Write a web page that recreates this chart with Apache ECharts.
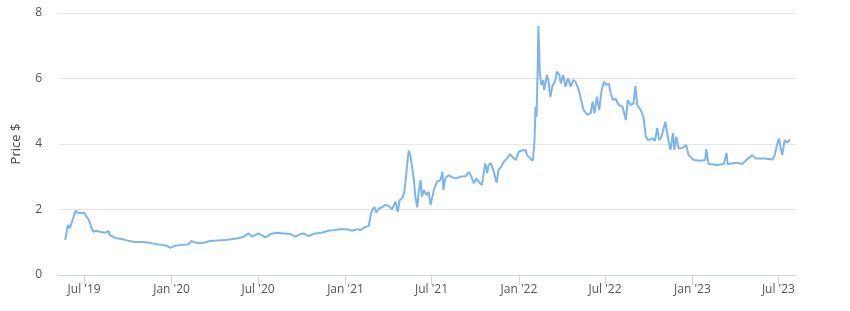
<!DOCTYPE html>
<html>
<head>
<meta charset="utf-8">
<script src="https://cdn.jsdelivr.net/npm/echarts@6/dist/echarts.min.js"></script>
<style>html,body{margin:0;padding:0;background:#fff}#c{width:850px;height:311px}</style>
</head>
<body>
<div id="c"></div>
<script>
var dates = [
'2019-05-22','2019-05-25','2019-05-28','2019-06-01','2019-06-04','2019-06-08','2019-06-13','2019-06-18','2019-06-25','2019-07-01',
'2019-07-06','2019-07-11','2019-07-16','2019-07-20','2019-07-27','2019-08-03','2019-08-14','2019-08-21','2019-08-24','2019-09-07',
'2019-09-18','2019-10-01','2019-10-15','2019-10-30','2019-11-13','2019-11-27','2019-12-11','2019-12-22','2019-12-29','2020-01-08',
'2020-01-22','2020-02-05','2020-02-12','2020-02-19','2020-03-01','2020-03-11','2020-03-22','2020-04-05','2020-04-23','2020-05-06',
'2020-05-20','2020-06-01','2020-06-11','2020-06-18','2020-06-25','2020-07-02','2020-07-06','2020-07-17','2020-07-27','2020-08-10',
'2020-08-24','2020-09-07','2020-09-17','2020-09-28','2020-10-05','2020-10-15','2020-10-29','2020-11-12','2020-11-26','2020-12-07',
'2020-12-21','2021-01-04','2021-01-15','2021-01-25','2021-02-01','2021-02-12','2021-02-19','2021-02-23','2021-02-26','2021-03-03',
'2021-03-07','2021-03-12','2021-03-19','2021-03-26','2021-04-02','2021-04-09','2021-04-16','2021-04-21','2021-04-25','2021-04-30',
'2021-05-05','2021-05-08','2021-05-11','2021-05-14','2021-05-18','2021-05-21','2021-05-25','2021-05-28','2021-06-01','2021-06-04',
'2021-06-08','2021-06-11','2021-06-15','2021-06-20','2021-06-25','2021-06-29','2021-07-02','2021-07-07','2021-07-13','2021-07-20',
'2021-07-24','2021-07-26','2021-07-30','2021-08-06','2021-08-14','2021-08-21','2021-08-31','2021-09-11','2021-09-18','2021-09-23',
'2021-09-28','2021-10-03','2021-10-08','2021-10-15','2021-10-22','2021-10-26','2021-10-29','2021-11-03','2021-11-09','2021-11-15',
'2021-11-19','2021-11-25','2021-11-30','2021-12-07','2021-12-13','2021-12-18','2021-12-25','2022-01-01','2022-01-08','2022-01-15',
'2022-01-18','2022-01-25','2022-01-30','2022-02-02','2022-02-03','2022-02-05','2022-02-07','2022-02-09','2022-02-11','2022-02-14',
'2022-02-17','2022-02-21','2022-02-23','2022-03-01','2022-03-04','2022-03-08','2022-03-13','2022-03-18','2022-03-22','2022-03-27',
'2022-03-30','2022-04-04','2022-04-09','2022-04-14','2022-04-20','2022-04-25','2022-04-30','2022-05-07','2022-05-12','2022-05-17',
'2022-05-25','2022-06-01','2022-06-05','2022-06-09','2022-06-14','2022-06-19','2022-06-24','2022-06-29','2022-07-04','2022-07-09',
'2022-07-13','2022-07-18','2022-07-23','2022-07-30','2022-08-07','2022-08-14','2022-08-18','2022-08-24','2022-08-30','2022-09-03',
'2022-09-07','2022-09-14','2022-09-20','2022-09-25','2022-09-30','2022-10-09','2022-10-14','2022-10-19','2022-10-23','2022-10-28',
'2022-11-05','2022-11-12','2022-11-16','2022-11-21','2022-11-24','2022-11-28','2022-12-03','2022-12-10','2022-12-19','2022-12-24',
'2023-01-04','2023-01-18','2023-01-28','2023-01-30','2023-02-04','2023-02-22','2023-03-08','2023-03-14','2023-03-16','2023-04-05',
'2023-04-16','2023-04-26','2023-05-07','2023-05-14','2023-06-01','2023-06-19','2023-06-23','2023-06-28','2023-07-02','2023-07-06',
'2023-07-09','2023-07-14','2023-07-20','2023-07-25'
];
var prices = [
1.07,1.13,1.53,1.43,1.47,1.74,1.96,1.90,1.89,1.90,
1.78,1.68,1.47,1.32,1.35,1.32,1.29,1.35,1.22,1.12,
1.10,1.05,1.01,1.01,0.99,0.95,0.92,0.89,0.83,0.89,
0.92,0.93,1.04,0.99,0.97,0.99,1.04,1.05,1.07,1.09,
1.12,1.17,1.27,1.17,1.22,1.27,1.22,1.15,1.25,1.29,
1.27,1.25,1.17,1.25,1.27,1.19,1.27,1.29,1.35,1.37,
1.40,1.40,1.35,1.40,1.37,1.47,1.50,1.83,1.98,2.07,
1.90,2.03,2.07,2.14,2.11,2.01,2.24,1.93,2.29,2.34,
2.54,2.95,3.41,3.80,3.61,3.31,2.90,2.39,2.07,2.54,
2.90,2.39,2.60,2.44,2.54,2.14,2.34,2.65,2.85,2.90,
3.15,2.60,2.95,3.05,2.98,2.95,3.00,3.02,3.15,3.00,
2.80,2.95,2.85,2.75,3.41,3.11,3.36,3.41,3.15,2.82,
3.21,3.31,3.46,3.56,3.69,3.61,3.51,3.77,3.80,3.82,
3.66,3.56,3.49,3.95,4.22,5.14,4.83,6.05,7.60,6.16,
5.80,5.95,5.65,6.11,5.95,5.44,5.80,5.90,6.21,6.11,
5.85,6.11,5.75,6.01,5.75,5.95,5.90,5.65,5.34,5.04,
4.89,4.94,5.29,4.94,5.44,5.04,5.65,5.90,5.80,5.85,
5.55,5.34,5.39,5.19,5.14,4.73,5.34,5.19,5.24,5.77,
5.19,5.04,4.83,4.22,4.12,4.17,4.10,4.48,4.12,4.22,
4.68,4.07,3.82,4.33,3.82,4.22,3.87,3.87,3.97,3.66,
3.51,3.49,3.51,3.84,3.39,3.36,3.39,3.73,3.39,3.43,
3.39,3.53,3.66,3.56,3.56,3.53,3.66,3.97,4.17,3.87,
3.66,4.12,4.04,4.14
];
var tickDates = ['2019-07-01','2020-01-01','2020-07-01','2021-01-01','2021-07-01','2022-01-01','2022-07-01','2023-01-01','2023-07-01'];
var monthNames = ['Jan','Feb','Mar','Apr','May','Jun','Jul','Aug','Sep','Oct','Nov','Dec'];
var yTicks = [0, 2, 4, 6, 8];

function ts(s){ var p = s.split('-'); return Date.UTC(+p[0], +p[1]-1, +p[2]); }
var seriesData = dates.map(function(d, i){ return [ts(d), prices[i]]; });
var tickVals = tickDates.map(ts);

var chart = echarts.init(document.getElementById('c'), null, {renderer: 'canvas'});
chart.setOption({
  animation: false,
  grid: {left: 58, right: 54, top: 13, bottom: 36},
  xAxis: {
    type: 'value',
    min: ts('2019-05-07'),
    max: ts('2023-08-07'),
    axisLine: {lineStyle: {color: '#ccd6eb', width: 1}},
    axisTick: {show: true, length: 10, lineStyle: {color: '#ccd6eb'}, customValues: tickVals},
    axisLabel: {
      customValues: tickVals,
      color: '#555555',
      fontSize: 12,
      fontFamily: 'Open Sans, sans-serif',
      margin: 9,
      formatter: function(v){
        var d = new Date(v);
        return monthNames[d.getUTCMonth()] + " '" + String(d.getUTCFullYear()).slice(2);
      }
    },
    splitLine: {show: false}
  },
  yAxis: {
    type: 'value',
    min: yTicks[0],
    max: yTicks[yTicks.length-1],
    interval: 2,
    name: 'Price $',
    nameLocation: 'middle',
    nameGap: 35,
    nameTextStyle: {color: '#444444', fontSize: 13, fontFamily: 'Open Sans, sans-serif'},
    axisLine: {show: false},
    axisTick: {show: false},
    axisLabel: {color: '#555555', fontSize: 12, fontFamily: 'Open Sans, sans-serif', margin: 16},
    splitLine: {lineStyle: {color: '#e6e6e6', width: 1}}
  },
  series: [{
    type: 'line',
    data: seriesData,
    showSymbol: false,
    symbol: 'none',
    lineStyle: {color: '#7cb5ec', width: 2},
    itemStyle: {color: '#7cb5ec'}
  }]
});
</script>
</body>
</html>
